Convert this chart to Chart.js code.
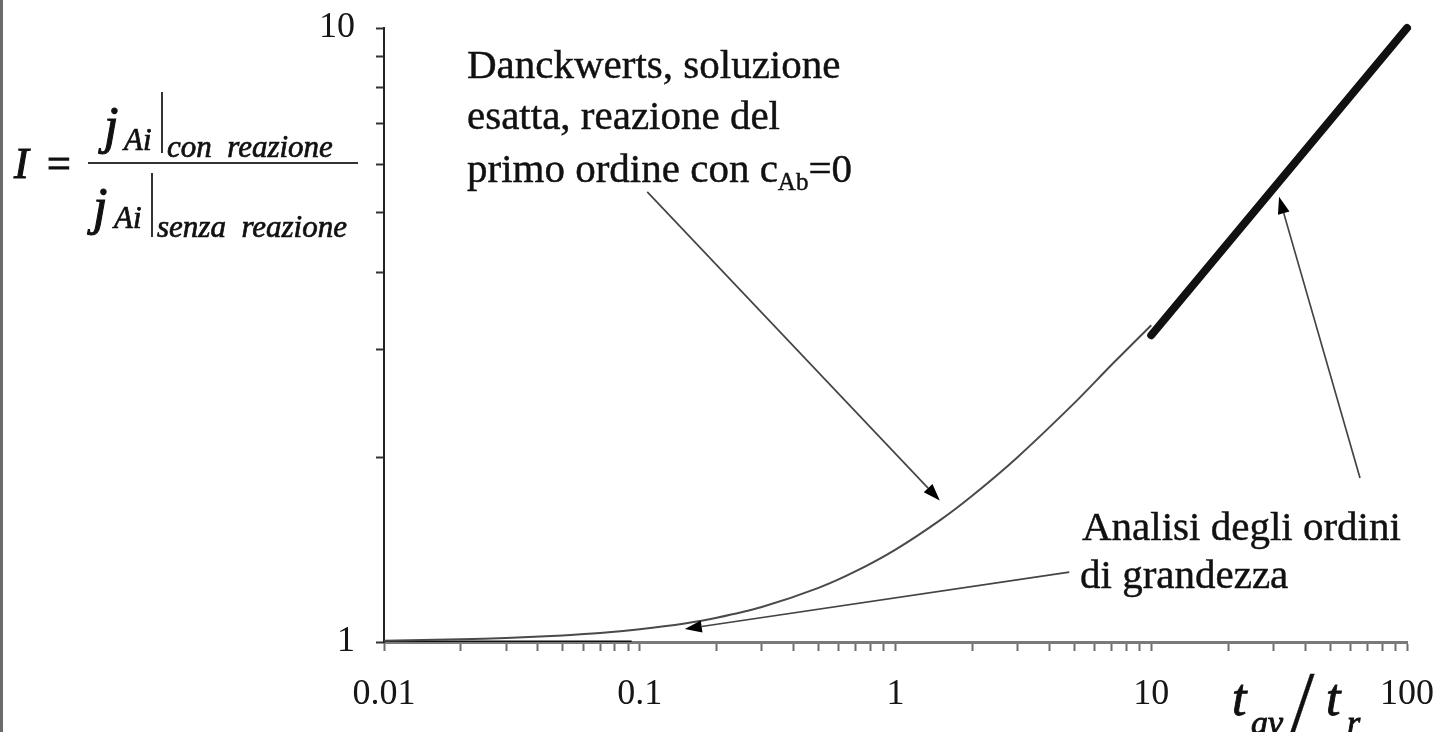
<!DOCTYPE html>
<html>
<head>
<meta charset="utf-8">
<script src="https://cdn.jsdelivr.net/npm/chart.js@4"></script>
<style>
  html, body { margin: 0; padding: 0; background: #fff; }
  canvas { display: block; }
</style>
</head>
<body>
<canvas id="chartI" width="1437" height="732"></canvas>
<script>
const chartI = document.getElementById("chartI");

// Danckwerts, exact solution (it runs under the thick line past 10)
const danckX = [0.01, 0.02, 0.03, 0.05, 0.07, 0.1, 0.15, 0.2, 0.3, 0.5, 0.7, 1, 1.5, 2, 3, 5, 7, 10];
const danckY = [1.005, 1.01, 1.015, 1.025, 1.034, 1.049, 1.072, 1.095, 1.14, 1.225, 1.304, 1.414, 1.581, 1.732, 2.0, 2.449, 2.828, 3.28];

// order-of-magnitude analysis, the two asymptotes
const orderHighX = [10, 20, 50, 100];
const orderHighY = [3.16, 4.47, 7.07, 10];
const orderLowX = [0.01, 0.093];
const orderLowY = [1, 1];

// tick marks and labels
const xTickValues = [0.01, 0.02, 0.03, 0.04, 0.05, 0.06, 0.07, 0.08, 0.09,
  0.1, 0.2, 0.3, 0.4, 0.5, 0.6, 0.7, 0.8, 0.9,
  1, 2, 3, 4, 5, 6, 7, 8, 9,
  10, 20, 30, 40, 50, 60, 70, 80, 90, 100];
const xMajor = [0.01, 0.1, 1, 10, 100];
const xMajorLabels = ["0.01", "0.1", "1", "10", "100"];
const yTickValues = [1, 2, 3, 4, 5, 6, 7, 8, 9, 10];
const yMajor = [1, 10];
const yMajorLabels = ["1", "10"];

// arrows, in data units: [tailX, tailY, tipX, tipY]
const arrows = [
  [0.107, 5.41, 1.49, 1.70],
  [4.78, 1.30, 0.150, 1.050],
  [65.5, 1.85, 31.6, 5.31]
];

const SERIF = '"Liberation Serif", "Times New Roman", serif';

function pts(xs, ys) {
  return xs.map((x, i) => ({x: x, y: ys[i]}));
}

function drawArrow(ctx, x1, y1, x2, y2) {
  const a = Math.atan2(y2 - y1, x2 - x1);
  const len = 17, half = 6;
  const bx = x2 - len * Math.cos(a), by = y2 - len * Math.sin(a);
  ctx.strokeStyle = "#444";
  ctx.lineWidth = 1.7;
  ctx.beginPath();
  ctx.moveTo(x1, y1);
  ctx.lineTo(bx, by);
  ctx.stroke();
  ctx.fillStyle = "#000";
  ctx.beginPath();
  ctx.moveTo(x2, y2);
  ctx.lineTo(bx + half * Math.sin(a), by - half * Math.cos(a));
  ctx.lineTo(bx - half * Math.sin(a), by + half * Math.cos(a));
  ctx.closePath();
  ctx.fill();
}

// text with a faint outline so it reads as heavy as the scan
function txt(ctx, s, x, y, size, italic) {
  ctx.font = (italic ? "italic " : "") + size + "px " + SERIF;
  ctx.fillText(s, x, y);
  ctx.strokeText(s, x, y);
  return x + ctx.measureText(s).width;
}

const notes = {
  id: "notes",
  afterDraw(chart) {
    const ctx = chart.ctx;
    const sx = chart.scales.x, sy = chart.scales.y;
    ctx.save();

    // left frame edge
    ctx.fillStyle = "#6b6b6b";
    ctx.fillRect(0, 0, 3, chart.height);

    arrows.forEach(a => drawArrow(ctx,
      sx.getPixelForValue(a[0]), sy.getPixelForValue(a[1]),
      sx.getPixelForValue(a[2]), sy.getPixelForValue(a[3])));

    ctx.fillStyle = "#111";
    ctx.strokeStyle = "#111";
    ctx.lineWidth = 0.45;
    ctx.textAlign = "left";
    ctx.textBaseline = "alphabetic";

    // annotations
    txt(ctx, "Danckwerts, soluzione", 467, 78, 41, false);
    txt(ctx, "esatta, reazione del", 467, 129, 41, false);
    let x = txt(ctx, "primo ordine con c", 467, 182, 41, false);
    x = txt(ctx, "Ab", x, 190, 25, false);
    txt(ctx, "=0", x, 182, 41, false);
    txt(ctx, "Analisi degli ordini", 1082, 540, 41, false);
    txt(ctx, "di grandezza", 1080, 588, 41, false);

    // y title: I = j|con reazione / j|senza reazione
    ctx.lineWidth = 1.1;
    txt(ctx, "I", 14, 178, 44, true);
    txt(ctx, "=", 47, 177, 42, false);
    txt(ctx, "j", 104, 143, 52, true);
    txt(ctx, "j", 93, 224, 52, true);
    ctx.lineWidth = 0.7;
    txt(ctx, "Ai", 124, 150, 31, true);
    txt(ctx, "con  reazione", 167, 157, 31, true);
    txt(ctx, "Ai", 114, 228, 31, true);
    txt(ctx, "senza  reazione", 157, 237, 31, true);
    ctx.strokeStyle = "#333";
    ctx.lineWidth = 2;
    ctx.beginPath();
    ctx.moveTo(88, 163); ctx.lineTo(358, 163);
    ctx.moveTo(162, 92); ctx.lineTo(162, 153);
    ctx.moveTo(152, 173); ctx.lineTo(152, 237);
    ctx.stroke();

    // x title: t_av / t_r
    ctx.strokeStyle = "#111";
    ctx.lineWidth = 0.9;
    txt(ctx, "t", 1232, 715, 52, true);
    txt(ctx, "av", 1251, 734, 34, true);
    ctx.lineWidth = 0.3;
    txt(ctx, "/", 1290, 732, 88, false);
    ctx.lineWidth = 0.9;
    txt(ctx, "t", 1326, 715, 52, true);
    txt(ctx, "r", 1347, 734, 34, true);

    ctx.restore();
  }
};

const chart = new Chart(chartI, {
  type: "scatter",
  data: {
    datasets: [{
      label: "Danckwerts",
      data: pts(danckX, danckY),
      showLine: true,
      borderColor: "#4a4a4a",
      borderWidth: 2,
      pointRadius: 0,
      tension: 0.3
    }, {
      label: "Ordini di grandezza (alto)",
      data: pts(orderHighX, orderHighY),
      showLine: true,
      borderColor: "#111",
      borderWidth: 8,
      borderCapStyle: "round",
      pointRadius: 0,
      clip: 10
    }, {
      label: "Ordini di grandezza (basso)",
      data: pts(orderLowX, orderLowY),
      showLine: true,
      borderColor: "#111",
      borderWidth: 3,
      pointRadius: 0
    }]
  },
  options: {
    responsive: false,
    animation: false,
    devicePixelRatio: 1,
    layout: { padding: { left: 0, top: 28, right: 30, bottom: 0 } },
    plugins: { legend: { display: false }, tooltip: { enabled: false } },
    scales: {
      x: {
        type: "logarithmic",
        min: 0.01,
        max: 100,
        afterBuildTicks: s => { s.ticks = xTickValues.map(v => ({value: v})); },
        afterFit: s => { s.height = 90; s.paddingLeft = 0; s.paddingRight = 0; },
        ticks: {
          autoSkip: false,
          maxRotation: 0,
          minRotation: 0,
          padding: 22,
          color: "#161616",
          font: { family: SERIF, size: 36 },
          callback: v => {
            const i = xMajor.indexOf(v);
            return i >= 0 ? xMajorLabels[i] : "";
          }
        },
        grid: {
          drawOnChartArea: false,
          drawTicks: true,
          tickLength: 9,
          tickWidth: 2,
          tickColor: "#6e6e6e"
        },
        border: { color: "#7a7a7a", width: 3 }
      },
      y: {
        type: "logarithmic",
        min: 1,
        max: 10,
        afterBuildTicks: s => { s.ticks = yTickValues.map(v => ({value: v})); },
        afterFit: s => { s.width = 384; s.paddingTop = 0; s.paddingBottom = 0; },
        ticks: {
          autoSkip: false,
          padding: 21,
          color: "#161616",
          font: { family: SERIF, size: 36 },
          callback: v => {
            const i = yMajor.indexOf(v);
            return i >= 0 ? yMajorLabels[i] : "";
          }
        },
        grid: {
          drawOnChartArea: false,
          drawTicks: true,
          tickLength: 8,
          tickWidth: 2,
          tickColor: "#333"
        },
        border: { color: "#222", width: 2 }
      }
    }
  },
  plugins: [notes]
});
</script>
</body>
</html>
